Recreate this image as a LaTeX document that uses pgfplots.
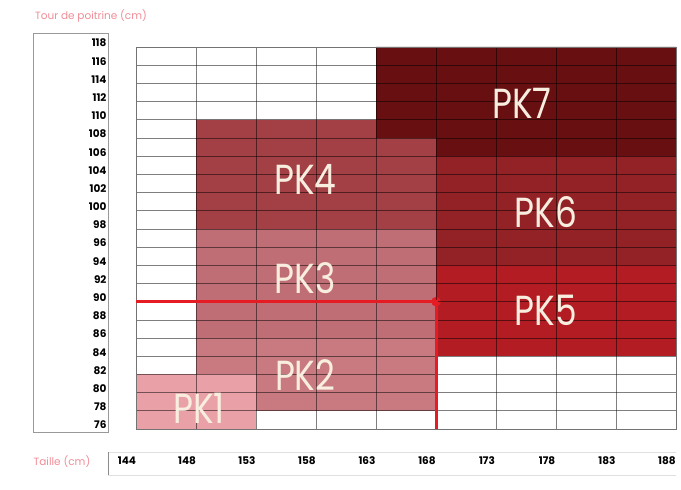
\documentclass[border=0pt]{standalone}
\usepackage{pgfplots}
\pgfplotsset{compat=1.18}
\usepackage{fontspec}
\setmainfont{Poppins}
\definecolor{pkone}{RGB}{234,160,167}
\definecolor{pktwo}{RGB}{200,122,128}
\definecolor{pkthree}{RGB}{192,110,117}
\definecolor{pkfour}{RGB}{163,64,70}
\definecolor{pkfive}{RGB}{178,28,34}
\definecolor{pksix}{RGB}{146,34,38}
\definecolor{pkseven}{RGB}{104,16,17}
\definecolor{redline}{RGB}{230,28,36}
\definecolor{pinktitle}{RGB}{240,140,150}
\definecolor{cream}{RGB}{248,238,224}
\begin{document}
\begin{tikzpicture}
\begin{axis}[
  set layers=axis on top,
  scale only axis, width=540pt, height=382pt,
  xmin=0, xmax=9, ymin=76, ymax=118,
  clip=false,
  xtick={0,...,9},
  xticklabels={144,148,153,158,163,168,173,178,183,188},
  ytick={76,78,...,118},
  yticklabels={76,78,80,82,84,86,88,90,92,94,96,98,100,102,104,106,108,110,112,114,116,118},
  tick style={draw=none},
  grid=major,
  grid style={black, opacity=0.5, line width=0.7pt},
  axis line style={black!55, line width=0.7pt},
  xticklabel style={font=\bfseries\fontsize{10.5}{12}\selectfont, yshift=-24pt, xshift=-9pt},
  yticklabel style={font=\bfseries\fontsize{10.5}{12}\selectfont, xshift=-26pt, yshift=4pt},
]
% PK2
\addplot[fill=pktwo, draw=none] coordinates {(1,78) (5,78) (5,86) (1,86)} -- cycle;
% PK1
\addplot[fill=pkone, draw=none] coordinates {(0,76) (2,76) (2,82) (0,82)} -- cycle;
% PK3
\addplot[fill=pkthree, draw=none] coordinates {(1,86) (5,86) (5,98) (1,98)} -- cycle;
% PK4
\addplot[fill=pkfour, draw=none] coordinates {(1,98) (5,98) (5,108) (4,108) (4,110) (1,110)} -- cycle;
% PK5
\addplot[fill=pkfive, draw=none] coordinates {(5,84) (9,84) (9,94) (5,94)} -- cycle;
% PK6
\addplot[fill=pksix, draw=none] coordinates {(5,94) (9,94) (9,106) (5,106)} -- cycle;
% PK7
\addplot[fill=pkseven, draw=none] coordinates {(5,106) (9,106) (9,118) (4,118) (4,108) (5,108)} -- cycle;
% red guide
\addplot[draw=redline, line width=3pt, on layer=axis foreground] coordinates {(0,90) (5,90) (5,76)};
\addplot[only marks, mark=*, mark size=4.5pt, mark options={fill=redline, draw=redline}, on layer=axis foreground] coordinates {(5,90)};

\begin{pgfonlayer}{axis foreground}
\begin{scope}[every node/.style={text=cream, font=\fontsize{42}{42}\selectfont, xscale=0.82}]
\node at (axis cs:1.05,78.3) {PK1};
\node at (axis cs:2.82,81.9) {PK2};
\node at (axis cs:2.82,92.6) {PK3};
\node at (axis cs:2.82,103.4) {PK4};
\node at (axis cs:6.83,89.1) {PK5};
\node at (axis cs:6.83,99.8) {PK6};
\node at (axis cs:6.43,111.8) {PK7};
\end{scope}
\end{pgfonlayer}
\end{axis}
% decorations
\draw[black!40, line width=0.8pt] ([xshift=-103pt,yshift=14pt]current axis.north west) rectangle ([xshift=-28pt,yshift=-3pt]current axis.south west);
\draw[black!12, line width=0.6pt] ([xshift=-28pt,yshift=-23pt]current axis.south west) -- ([xshift=0pt,yshift=-23pt]current axis.south east);
\draw[black!12, line width=0.6pt] ([xshift=-28pt,yshift=-46pt]current axis.south west) -- ([xshift=0pt,yshift=-46pt]current axis.south east);
\draw[black!45, line width=0.8pt] ([xshift=-28pt,yshift=-23pt]current axis.south west) -- ([xshift=-28pt,yshift=-46pt]current axis.south west);
\node[anchor=west, text=pinktitle, font=\fontsize{10.5}{12}\selectfont, inner sep=0pt] at ([xshift=-101pt,yshift=31pt]current axis.north west) {Tour de poitrine (cm)};
\node[text=pinktitle, font=\fontsize{10.5}{12}\selectfont, inner sep=0pt] at ([xshift=-74pt,yshift=-33pt]current axis.south west) {Taille (cm)};
\pgfresetboundingbox
\path ([xshift=-136pt,yshift=-60pt]current axis.south west) rectangle ([xshift=5pt,yshift=47pt]current axis.north east);
\end{tikzpicture}
\end{document}
